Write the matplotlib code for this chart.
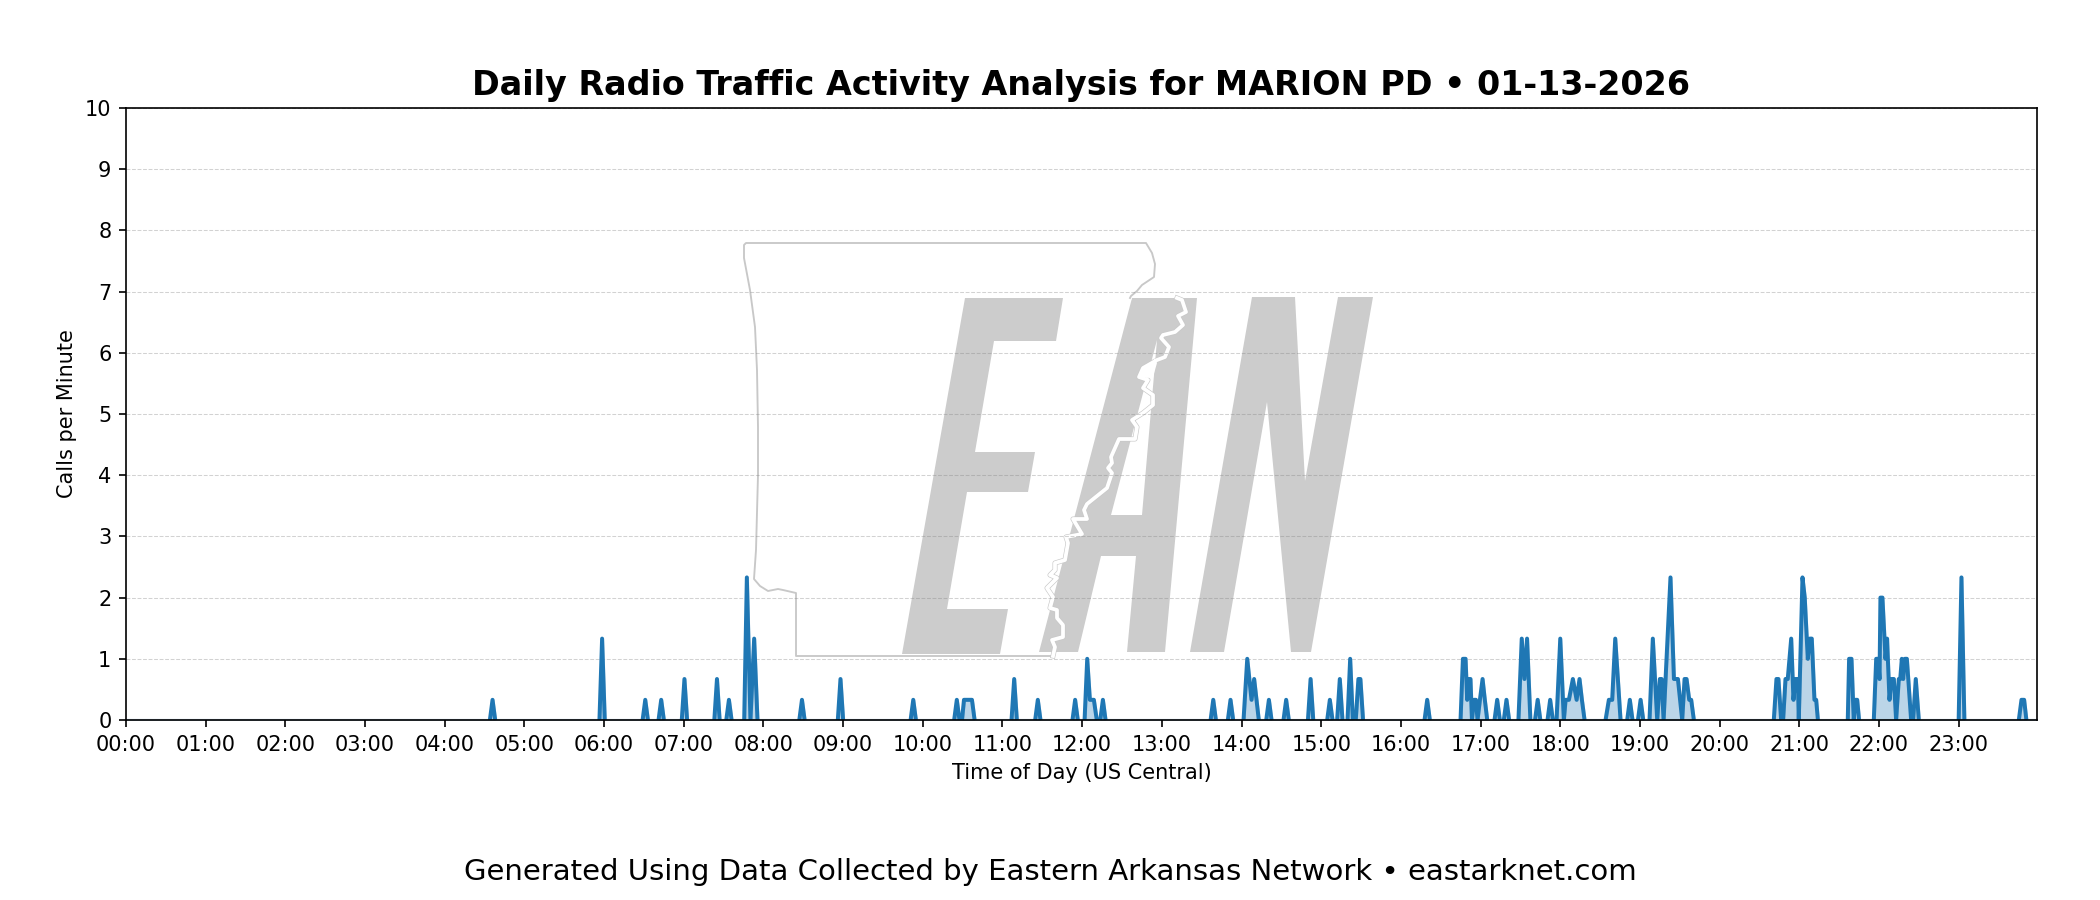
#!/usr/bin/env python3
"""Daily radio traffic chart for one agency, with the network watermark behind it"""

import matplotlib
matplotlib.use("Agg")
import matplotlib.pyplot as plt
from matplotlib.patches import Polygon, PathPatch
from matplotlib.path import Path
from matplotlib.lines import Line2D
import numpy as np

# Minute of day and calls per minute. Zeros are kept so bursts return to baseline.
morning_minutes = [0, 274, 276, 278, 356.5, 358.5, 360.5, 389, 391, 393, 401, 403, 405,
                   418.5, 420.5, 422.5, 443, 445, 447, 452, 454, 456,
                   465.5, 467.5, 470.2, 473, 475.5, 507, 509, 511, 536, 538, 540]
morning_calls = [0, 0, 0.33, 0, 0, 1.33, 0, 0, 0.33, 0, 0, 0.33, 0,
                 0, 0.67, 0, 0, 0.67, 0, 0, 0.33, 0,
                 0, 2.33, 0, 1.33, 0, 0, 0.33, 0, 0, 0.67, 0]

midday_minutes = [590.8, 592.8, 594.8, 623.6, 625.6, 627.6, 629.5, 631, 637, 639,
                  666.8, 668.8, 670.8, 684.6, 686.6, 688.6, 712.7, 714.7, 716.7,
                  721.8, 723.8, 725.8, 728.8, 731, 733.6, 735.6, 737.6]
midday_calls = [0, 0.33, 0, 0, 0.33, 0, 0, 0.33, 0.33, 0,
                0, 0.67, 0, 0, 0.33, 0, 0, 0.33, 0,
                0, 1, 0.33, 0.33, 0, 0, 0.33, 0]

afternoon_minutes = [816.7, 818.7, 820.7, 829.7, 831.7, 833.7, 841.5, 844.3, 847.5, 849.5, 853,
                     858.6, 860.6, 862.6, 871.6, 873.6, 875.6, 890, 892, 894, 904.5, 906.5, 908.5,
                     912, 914, 916, 919.8, 921.8, 923.8, 926, 928, 929.5, 931.5, 977.8, 979.8, 981.8]
afternoon_calls = [0, 0.33, 0, 0, 0.33, 0, 0, 1, 0.33, 0.67, 0,
                   0, 0.33, 0, 0, 0.33, 0, 0, 0.67, 0, 0, 0.33, 0,
                   0, 0.67, 0, 0, 1, 0, 0, 0.67, 0.67, 0, 0, 0.33, 0]

evening_minutes = [1004.9, 1006.7, 1008.7, 1009.9, 1011.4, 1012.4, 1013.5, 1015, 1016.5, 1017.7, 1019.5, 1021.5,
                   1023.2, 1025, 1030.5, 1032.5, 1034.5, 1037.5, 1039.5, 1041.5, 1048.5, 1051, 1053, 1055, 1057.5,
                   1061, 1063, 1065, 1070.4, 1072.4, 1074.4, 1077.2, 1080, 1082.7, 1084, 1086.5, 1089.5, 1092.3,
                   1094.5, 1096.3, 1098.3, 1114.1, 1116.6, 1119.1, 1121.4, 1125.4, 1130.4, 1132.4, 1134.4,
                   1138.5, 1140.5, 1142.5, 1147.2, 1149.7, 1153, 1155, 1156.3, 1157.8, 1160, 1163, 1165.6,
                   1168.6, 1171.8, 1173.6, 1175.1, 1177.1, 1178.6, 1180.6]
evening_calls = [0, 1, 1, 0.33, 0.67, 0.67, 0, 0.33, 0.33, 0, 0.33, 0.67,
                 0.33, 0, 0, 0.33, 0, 0, 0.33, 0, 0, 1.33, 0.67, 1.33, 0,
                 0, 0.33, 0, 0, 0.33, 0, 0, 1.33, 0, 0.33, 0.33, 0.67, 0.33,
                 0.67, 0.33, 0, 0, 0.33, 0.33, 1.33, 0, 0, 0.33, 0,
                 0, 0.33, 0, 0, 1.33, 0, 0.67, 0.67, 0, 1, 2.33, 0.67,
                 0.67, 0, 0.67, 0.67, 0.33, 0.33, 0]

night_minutes = [1240.8, 1242.8, 1244.3, 1246.3, 1247.8, 1249.6, 1251.3, 1253.9, 1255.6, 1257.1, 1258.9, 1259.6,
                 1262.4, 1264.1, 1266.4, 1267.9, 1269.4, 1271.4, 1272.7, 1274, 1296.5, 1297.5, 1299.3, 1301,
                 1302.3, 1303.6, 1305, 1316.1, 1317.9, 1319.4, 1320.4, 1321.1, 1322.6, 1324.9, 1326.1, 1327.9,
                 1329.4, 1331.2, 1332.9, 1334.9, 1336, 1337.2, 1338.2, 1339.5, 1341, 1344.2, 1345.7, 1347.7, 1350,
                 1380, 1382.1, 1384.3, 1425.3, 1427.3, 1429.3, 1431, 1439]
night_calls = [0, 0.67, 0.67, 0, 0, 0.67, 0.67, 1.33, 0.33, 0.67, 0.67, 0,
               2.33, 2, 1, 1.33, 1.33, 0.33, 0.33, 0, 0, 1, 1, 0,
               0.33, 0.33, 0, 0, 1, 1, 0.67, 2, 2, 1, 1.33, 0.33,
               0.67, 0.67, 0, 0.67, 0.67, 1, 0.67, 1, 1, 0, 0, 0.67, 0,
               0, 2.33, 0, 0, 0.33, 0.33, 0, 0]

hour_labels = [f"{h:02d}:00" for h in range(24)]
y_ticks = list(range(0, 11))

TITLE = "Daily Radio Traffic Activity Analysis for MARION PD \u2022 01-13-2026"
FOOTER = "Generated Using Data Collected by Eastern Arkansas Network \u2022 eastarknet.com"

# Watermark shapes in image pixels (x, y from the top left)
LETTER_E = [(965, 298), (1063, 298), (1056, 341), (994, 341), (975, 452), (1035, 452), (1028, 492),
            (967, 492), (947, 609), (1008, 609), (1000, 654), (902, 654)]
LETTER_A = [(1132, 298), (1197, 298), (1165, 652), (1127, 652), (1136, 556), (1101, 556),
            (1078, 652), (1039, 652)]
LETTER_A_HOLE = [(1111, 515), (1142, 515), (1157, 340)]
LETTER_N = [(1252, 297), (1295, 297), (1305, 481), (1338, 297), (1373, 297), (1311, 652), (1291, 652),
            (1267, 402), (1224, 652), (1190, 652)]
STATE_WEST = [(1053, 656), (796, 656), (796, 593), (783, 590), (778, 589), (768, 591), (760, 586),
              (754, 579), (756, 550), (758, 475), (758, 427), (757, 370), (755, 327), (750, 290),
              (744, 258), (744, 245), (746, 243), (1146, 243), (1152, 253), (1155, 264), (1154, 277),
              (1142, 285), (1137, 291), (1131, 296), (1130, 298)]
RIVER = [(1177, 298), (1182, 300), (1186, 312), (1178, 316), (1183, 325), (1175, 332), (1163, 335),
         (1161, 338), (1169, 347), (1165, 357), (1157, 360), (1143, 368), (1139, 377), (1148, 380),
         (1143, 388), (1153, 395), (1153, 405), (1143, 413), (1132, 420), (1137, 427), (1135, 439),
         (1119, 439), (1111, 457), (1112, 463), (1108, 468), (1112, 473), (1107, 488), (1087, 504),
         (1084, 510), (1087, 519), (1073, 519), (1082, 534), (1066, 537), (1068, 543), (1065, 560),
         (1055, 563), (1055, 570), (1050, 575), (1057, 578), (1047, 588), (1053, 597), (1050, 608),
         (1057, 610), (1057, 618), (1063, 625), (1063, 637), (1052, 640), (1055, 647), (1053, 656)]
RIVER_ISLAND = [(1139, 377), (1143, 367), (1152, 362), (1155, 358), (1157, 363), (1153, 377), (1147, 378)]

WATERMARK_GREY = "#cccccc"


def to_fig(points, fig_w=2100, fig_h=900):
    """Image pixels to figure fractions"""
    pts = np.array(points, dtype=float)
    return np.column_stack([pts[:, 0] / fig_w, 1 - pts[:, 1] / fig_h])


def draw_watermark(fig):
    """Letters and state outline, behind the axes"""
    for letter in (LETTER_E, LETTER_N):
        fig.add_artist(Polygon(to_fig(letter), closed=True, transform=fig.transFigure,
                               facecolor=WATERMARK_GREY, edgecolor="none", zorder=-2))

    # A has a hole, so build it as a compound path
    outer = to_fig(LETTER_A)
    hole = to_fig(LETTER_A_HOLE)
    verts = np.vstack([outer, outer[:1], hole, hole[:1]])
    codes = ([Path.MOVETO] + [Path.LINETO] * (len(outer) - 1) + [Path.CLOSEPOLY]
             + [Path.MOVETO] + [Path.LINETO] * (len(hole) - 1) + [Path.CLOSEPOLY])
    fig.add_artist(PathPatch(Path(verts, codes), transform=fig.transFigure,
                             facecolor=WATERMARK_GREY, edgecolor="none", zorder=-2))

    west = to_fig(STATE_WEST)
    river = to_fig(RIVER)
    fig.add_artist(Line2D(west[:, 0], west[:, 1], transform=fig.transFigure, color="white",
                          lw=1.8, zorder=-1.5))
    fig.add_artist(Line2D(west[:, 0], west[:, 1], transform=fig.transFigure, color="#c8c8c8",
                          lw=0.9, zorder=-1.4))
    fig.add_artist(Line2D(river[:, 0], river[:, 1], transform=fig.transFigure, color="#c8c8c8",
                          lw=2.4, zorder=-1.5))
    fig.add_artist(Line2D(river[:, 0], river[:, 1], transform=fig.transFigure, color="white",
                          lw=1.8, zorder=-1.4))
    fig.add_artist(Polygon(to_fig(RIVER_ISLAND), closed=True, transform=fig.transFigure,
                           facecolor="white", edgecolor="none", zorder=-1.3))


def break_flat_runs(minutes, calls):
    """Put a gap between neighbouring zero points so the dark line only draws the bursts"""
    xs, ys = [], []
    for i in range(len(minutes)):
        if i > 0 and calls[i] == 0 and calls[i - 1] == 0:
            xs.append(np.nan)
            ys.append(np.nan)
        xs.append(minutes[i])
        ys.append(calls[i])
    return xs, ys


def main():
    minutes = morning_minutes + midday_minutes + afternoon_minutes + evening_minutes + night_minutes
    calls = morning_calls + midday_calls + afternoon_calls + evening_calls + night_calls

    fig = plt.figure(figsize=(14, 6), dpi=150)
    draw_watermark(fig)

    ax = fig.add_axes([126 / 2100, 1 - 720 / 900, (2037 - 126) / 2100, (720 - 108) / 900])
    ax.set_facecolor("none")

    line_x, line_y = break_flat_runs(minutes, calls)
    ax.plot(line_x, line_y, color="#1f77b4", lw=1.9, solid_capstyle="butt")
    ax.fill_between(minutes, calls, 0, color="#1f77b4", alpha=0.3, lw=1.5)

    ax.set_xlim(0, 1439)
    ax.set_ylim(0, 10)
    ax.set_xticks(np.arange(24) * 60)
    ax.set_xticklabels(hour_labels)
    ax.set_yticks(y_ticks)
    ax.grid(axis="y", linestyle="--", color="gray", alpha=0.35, lw=0.5)

    ax.set_title(TITLE, fontsize=16, fontweight="bold", pad=6)
    ax.set_xlabel("Time of Day (US Central)")
    ax.set_ylabel("Calls per Minute")

    fig.text(0.5, 1 - 872 / 900, FOOTER, ha="center", va="center", fontsize=14)

    fig.savefig("out.png", dpi=150)


if __name__ == "__main__":
    main()
